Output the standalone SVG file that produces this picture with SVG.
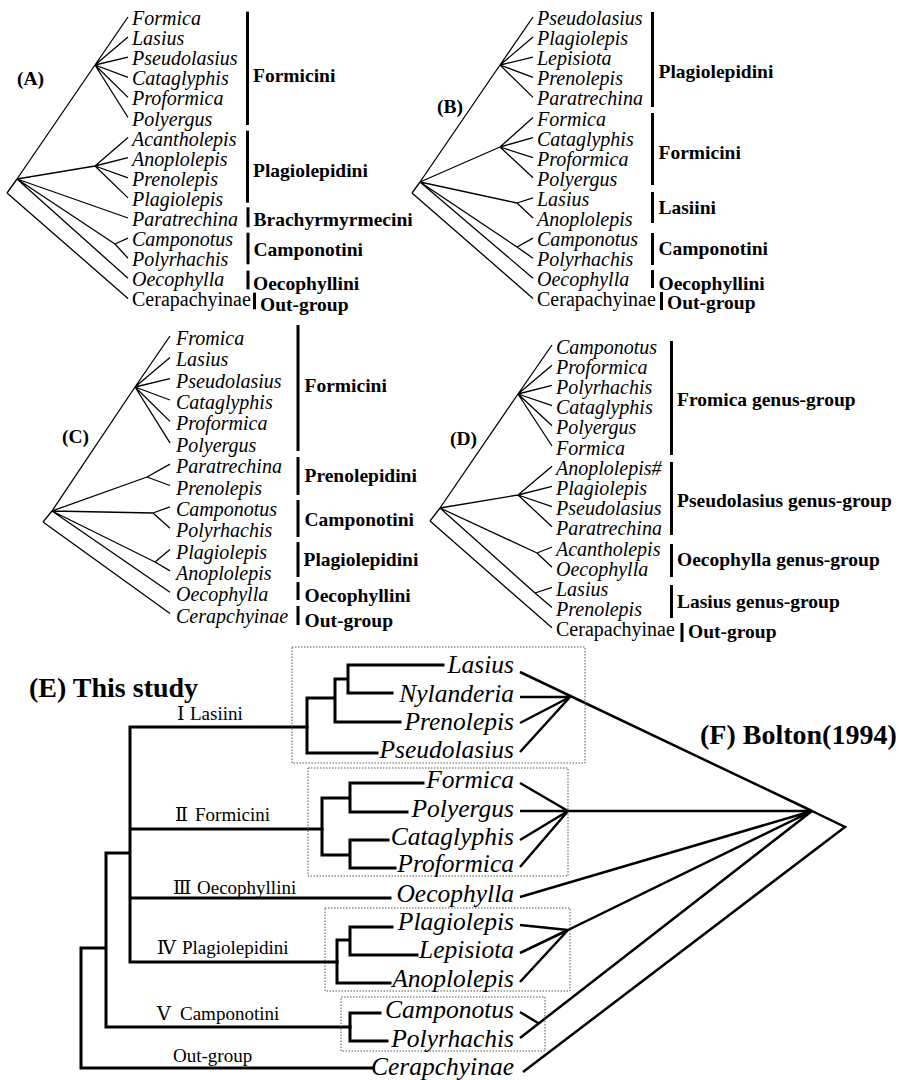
<svg xmlns="http://www.w3.org/2000/svg" width="899" height="1080" viewBox="0 0 899 1080">
<style>
text{font-family:"Liberation Serif","Times New Roman",serif;fill:#000}
.t{font-style:italic;font-size:20px}
.r{font-size:20px}
.b{font-weight:bold;font-size:19.5px}
.e{font-style:italic;font-size:25.5px;text-anchor:end}
.lab{font-size:19px}
.num{font-family:"Liberation Serif","DejaVu Serif",serif}
.title{font-weight:bold;font-size:28px}
.ln{stroke:#000;stroke-width:1.3;fill:none}
.th{stroke:#000;stroke-width:3;fill:none;stroke-linecap:square}
.f{stroke:#000;stroke-width:2.5;fill:none}
.box{fill:none;stroke:#555;stroke-width:1;stroke-dasharray:1.5 1.5}
.bar{fill:#000}
</style>
<rect width="899" height="1080" fill="#fff"/>

<!-- Panel titles -->
<g id="titles">
<text class="b" x="17" y="85">(A)</text>
<text class="b" x="437" y="113">(B)</text>
<text class="b" x="62" y="443">(C)</text>
<text class="b" x="450" y="445">(D)</text>
<text class="title" x="29" y="697">(E) This study</text>
<text class="title" x="700" y="744">(F) Bolton(1994)</text>
</g>

<!-- Connectors -->
<g id="connectors">
<path class="ln" d="M7,193L17,179M7,193L128,298.4M17,179L95,65M95,65L128,17M95,65L128,37.1M95,65L128,57.2M95,65L128,77.3M95,65L128,97.4M95,65L128,117.5M17,179L95,166M95,166L128,137.6M95,166L128,157.7M95,166L128,177.8M95,166L128,197.9M17,179L128,218M17,179L115,244M115,244L128,238.1M115,244L128,258.2M17,179L128,278.3"/>
<path class="ln" d="M412,193L420,182M412,193L533,298.4M420,182L500,65M500,65L533,17M500,65L533,37.1M500,65L533,57.2M500,65L533,77.3M500,65L533,97.4M420,182L500,147M500,147L533,117.5M500,147L533,137.6M500,147L533,157.7M500,147L533,177.8M420,182L517,203M517,203L533,197.9M517,203L533,218M420,182L517,247M517,247L533,238.1M517,247L533,258.2M420,182L533,278.3"/>
<path class="ln" d="M43,522L52,511M43,522L170,613.5M52,511L135,387M135,387L170,336M135,387L170,357.4M135,387L170,378.7M135,387L170,400M135,387L170,421.4M135,387L170,442.8M52,511L147,477M147,477L170,464.1M147,477L170,485.5M52,511L153,513M153,513L170,506.8M153,513L170,528.2M52,511L155,562M155,562L170,549.5M155,562L170,570.9M52,511L170,592.2"/>
<path class="ln" d="M430,521L440,508M430,521L552,627.8M440,508L518,394M518,394L552,345M518,394L552,365.2M518,394L552,385.4M518,394L552,405.6M518,394L552,425.8M518,394L552,446M440,508L518,495M518,495L552,466.2M518,495L552,486.4M518,495L552,506.6M518,495L552,526.8M440,508L537,553M537,553L552,547M537,553L552,567.2M440,508L535,593M535,593L552,587.4M535,593L552,607.6"/>
<!-- E tree -->
<path class="th" d="M130,727V962M130,727H307M130,829H322M130,898H390M130,962H337M106,853V1027M106,853H130M106,1027H350M81,948V1068M81,948H106M81,1068H372"/>
<path class="th" d="M307,698V753M307,698H335M307,753H377M335,679V722M335,679H348M335,722H400M348,665V693M348,665H443M348,693H392"/>
<path class="th" d="M322,798V855M322,798H350M322,855H350M350,783V812M350,783H423M350,812H407M350,840V868M350,840H388M350,868H395"/>
<path class="th" d="M337,940V983M337,940H350M337,983H390M350,927V955M350,927H392M350,955H417"/>
<path class="th" d="M350,1013V1041M350,1013H380M350,1041H387"/>
<!-- F (Bolton) -->
<path class="f" d="M520,672L812,811M520,697L570,697M520,723L570,697M520,752L570,697M520,783L568,811M520,811L812,811M520,840L568,811M520,867L568,811M520,897L812,811M520,925L568,930M520,953L568,930M520,982L568,930M568,930L812,811M520,1012L538,1023M520,1038L812,811M523,1072L845,827L812,811"/>
</g>

<!-- Dotted clade boxes -->
<g id="boxes">
<rect class="box" x="292" y="647" width="293" height="116"/>
<rect class="box" x="308" y="768" width="260" height="108"/>
<rect class="box" x="325" y="908" width="245" height="83"/>
<rect class="box" x="341" y="997" width="204" height="54"/>
</g>

<!-- Bracket bars -->
<g id="bars">
<rect class="bar" x="246" y="11.7" width="3" height="113.3"/>
<rect class="bar" x="246" y="130.7" width="3" height="72"/>
<rect class="bar" x="246.5" y="207.3" width="3" height="20"/>
<rect class="bar" x="246.5" y="232.7" width="3" height="31.6"/>
<rect class="bar" x="246.5" y="270.7" width="3" height="18.6"/>
<rect class="bar" x="253" y="292.7" width="3" height="16.6"/>
<rect class="bar" x="651" y="12" width="3" height="95"/>
<rect class="bar" x="651" y="113" width="3" height="72"/>
<rect class="bar" x="651" y="192" width="3" height="31"/>
<rect class="bar" x="651" y="233" width="3" height="32"/>
<rect class="bar" x="651" y="270" width="3" height="18"/>
<rect class="bar" x="660" y="292" width="3" height="18"/>
<rect class="bar" x="296.5" y="325" width="3" height="126"/>
<rect class="bar" x="296.5" y="457" width="3" height="38"/>
<rect class="bar" x="296.5" y="500" width="3" height="37"/>
<rect class="bar" x="296.5" y="542" width="3" height="35"/>
<rect class="bar" x="296.5" y="582" width="3" height="18"/>
<rect class="bar" x="296.5" y="606" width="3" height="19"/>
<rect class="bar" x="670" y="341" width="3" height="114"/>
<rect class="bar" x="670" y="462" width="3" height="73"/>
<rect class="bar" x="670" y="544" width="3" height="33"/>
<rect class="bar" x="670" y="585" width="3" height="33"/>
<rect class="bar" x="680.5" y="623" width="3" height="19"/>
</g>

<!-- Panel A taxa -->
<g id="A-Formica"><text class="t" x="132" y="25">Formica</text></g>
<g id="A-Lasius"><text class="t" x="132" y="45.1">Lasius</text></g>
<g id="A-Pseudolasius"><text class="t" x="132" y="65.2">Pseudolasius</text></g>
<g id="A-Cataglyphis"><text class="t" x="132" y="85.3">Cataglyphis</text></g>
<g id="A-Proformica"><text class="t" x="132" y="105.4">Proformica</text></g>
<g id="A-Polyergus"><text class="t" x="132" y="125.5">Polyergus</text></g>
<g id="A-Acantholepis"><text class="t" x="132" y="145.6">Acantholepis</text></g>
<g id="A-Anoplolepis"><text class="t" x="132" y="165.7">Anoplolepis</text></g>
<g id="A-Prenolepis"><text class="t" x="132" y="185.8">Prenolepis</text></g>
<g id="A-Plagiolepis"><text class="t" x="132" y="205.9">Plagiolepis</text></g>
<g id="A-Paratrechina"><text class="t" x="132" y="226">Paratrechina</text></g>
<g id="A-Camponotus"><text class="t" x="132" y="246.1">Camponotus</text></g>
<g id="A-Polyrhachis"><text class="t" x="132" y="266.2">Polyrhachis</text></g>
<g id="A-Oecophylla"><text class="t" x="132" y="286.3">Oecophylla</text></g>
<g id="A-Cerapachyinae"><text class="r" x="132" y="306.4">Cerapachyinae</text></g>
<g id="A-groups">
<text class="b" x="253" y="82">Formicini</text>
<text class="b" x="253" y="177">Plagiolepidini</text>
<text class="b" x="253.5" y="226">Brachyrmyrmecini</text>
<text class="b" x="253.5" y="256">Camponotini</text>
<text class="b" x="253" y="290">Oecophyllini</text>
<text class="b" x="260" y="311">Out-group</text>
</g>

<!-- Panel B taxa -->
<g id="B-Pseudolasius"><text class="t" x="537" y="25">Pseudolasius</text></g>
<g id="B-Plagiolepis"><text class="t" x="537" y="45.1">Plagiolepis</text></g>
<g id="B-Lepisiota"><text class="t" x="537" y="65.2">Lepisiota</text></g>
<g id="B-Prenolepis"><text class="t" x="537" y="85.3">Prenolepis</text></g>
<g id="B-Paratrechina"><text class="t" x="537" y="105.4">Paratrechina</text></g>
<g id="B-Formica"><text class="t" x="537" y="125.5">Formica</text></g>
<g id="B-Cataglyphis"><text class="t" x="537" y="145.6">Cataglyphis</text></g>
<g id="B-Proformica"><text class="t" x="537" y="165.7">Proformica</text></g>
<g id="B-Polyergus"><text class="t" x="537" y="185.8">Polyergus</text></g>
<g id="B-Lasius"><text class="t" x="537" y="205.9">Lasius</text></g>
<g id="B-Anoplolepis"><text class="t" x="537" y="226">Anoplolepis</text></g>
<g id="B-Camponotus"><text class="t" x="537" y="246.1">Camponotus</text></g>
<g id="B-Polyrhachis"><text class="t" x="537" y="266.2">Polyrhachis</text></g>
<g id="B-Oecophylla"><text class="t" x="537" y="286.3">Oecophylla</text></g>
<g id="B-Cerapachyinae"><text class="r" x="537" y="306.4">Cerapachyinae</text></g>
<g id="B-groups">
<text class="b" x="658.5" y="78">Plagiolepidini</text>
<text class="b" x="658.5" y="159">Formicini</text>
<text class="b" x="658.5" y="214">Lasiini</text>
<text class="b" x="658.5" y="255">Camponotini</text>
<text class="b" x="658.5" y="290">Oecophyllini</text>
<text class="b" x="667" y="309">Out-group</text>
</g>

<!-- Panel C taxa -->
<g id="C-Fromica"><text class="t" x="176" y="345">Fromica</text></g>
<g id="C-Lasius"><text class="t" x="176" y="366.4">Lasius</text></g>
<g id="C-Pseudolasius"><text class="t" x="176" y="387.7">Pseudolasius</text></g>
<g id="C-Cataglyphis"><text class="t" x="176" y="409.1">Cataglyphis</text></g>
<g id="C-Proformica"><text class="t" x="176" y="430.4">Proformica</text></g>
<g id="C-Polyergus"><text class="t" x="176" y="451.8">Polyergus</text></g>
<g id="C-Paratrechina"><text class="t" x="176" y="473.1">Paratrechina</text></g>
<g id="C-Prenolepis"><text class="t" x="176" y="494.5">Prenolepis</text></g>
<g id="C-Camponotus"><text class="t" x="176" y="515.8">Camponotus</text></g>
<g id="C-Polyrhachis"><text class="t" x="176" y="537.2">Polyrhachis</text></g>
<g id="C-Plagiolepis"><text class="t" x="176" y="558.5">Plagiolepis</text></g>
<g id="C-Anoplolepis"><text class="t" x="176" y="579.9">Anoplolepis</text></g>
<g id="C-Oecophylla"><text class="t" x="176" y="601.2">Oecophylla</text></g>
<g id="C-Cerapchyinae"><text class="t" x="176" y="622.6">Cerapchyinae</text></g>
<g id="C-groups">
<text class="b" x="304.5" y="391.7">Formicini</text>
<text class="b" x="304.5" y="481.7">Prenolepidini</text>
<text class="b" x="304.5" y="526">Camponotini</text>
<text class="b" x="303.5" y="566">Plagiolepidini</text>
<text class="b" x="304.5" y="601.7">Oecophyllini</text>
<text class="b" x="304.5" y="626.7">Out-group</text>
</g>

<!-- Panel D taxa -->
<g id="D-Camponotus"><text class="t" x="556" y="353.5">Camponotus</text></g>
<g id="D-Proformica"><text class="t" x="556" y="373.7">Proformica</text></g>
<g id="D-Polyrhachis"><text class="t" x="556" y="393.9">Polyrhachis</text></g>
<g id="D-Cataglyphis"><text class="t" x="556" y="414.1">Cataglyphis</text></g>
<g id="D-Polyergus"><text class="t" x="556" y="434.3">Polyergus</text></g>
<g id="D-Formica"><text class="t" x="556" y="454.5">Formica</text></g>
<g id="D-Anoplolepis"><text class="t" x="556" y="474.7">Anoplolepis#</text></g>
<g id="D-Plagiolepis"><text class="t" x="556" y="494.9">Plagiolepis</text></g>
<g id="D-Pseudolasius"><text class="t" x="556" y="515.1">Pseudolasius</text></g>
<g id="D-Paratrechina"><text class="t" x="556" y="535.3">Paratrechina</text></g>
<g id="D-Acantholepis"><text class="t" x="556" y="555.5">Acantholepis</text></g>
<g id="D-Oecophylla"><text class="t" x="556" y="575.7">Oecophylla</text></g>
<g id="D-Lasius"><text class="t" x="556" y="595.9">Lasius</text></g>
<g id="D-Prenolepis"><text class="t" x="556" y="616.1">Prenolepis</text></g>
<g id="D-Cerapachyinae"><text class="r" x="556" y="636.3">Cerapachyinae</text></g>
<g id="D-groups">
<text class="b" x="677" y="406">Fromica genus-group</text>
<text class="b" x="677" y="506.7">Pseudolasius genus-group</text>
<text class="b" x="677" y="566">Oecophylla genus-group</text>
<text class="b" x="677" y="608">Lasius genus-group</text>
<text class="b" x="688" y="638">Out-group</text>
</g>

<!-- Panel E clade labels -->
<g id="E-labels">
<text class="lab" x="177" y="720"><tspan class="num">Ⅰ</tspan> <tspan x="190">Lasiini</tspan></text>
<text class="lab" x="175" y="821"><tspan class="num">Ⅱ</tspan> <tspan x="195">Formicini</tspan></text>
<text class="lab" x="173" y="894"><tspan class="num">Ⅲ</tspan> <tspan x="197">Oecophyllini</tspan></text>
<text class="lab" x="157" y="954"><tspan class="num">Ⅳ</tspan> <tspan x="182">Plagiolepidini</tspan></text>
<text class="lab" x="157" y="1020"><tspan class="num">Ⅴ</tspan> <tspan x="180">Camponotini</tspan></text>
<text class="lab" x="173" y="1062">Out-group</text>
</g>

<!-- Panel E taxa -->
<g id="E-Lasius"><text class="e" x="514" y="673">Lasius</text></g>
<g id="E-Nylanderia"><text class="e" x="514" y="701.7">Nylanderia</text></g>
<g id="E-Prenolepis"><text class="e" x="514" y="730">Prenolepis</text></g>
<g id="E-Pseudolasius"><text class="e" x="514" y="758">Pseudolasius</text></g>
<g id="E-Formica"><text class="e" x="514" y="788">Formica</text></g>
<g id="E-Polyergus"><text class="e" x="514" y="817">Polyergus</text></g>
<g id="E-Cataglyphis"><text class="e" x="514" y="845">Cataglyphis</text></g>
<g id="E-Proformica"><text class="e" x="514" y="872">Proformica</text></g>
<g id="E-Oecophylla"><text class="e" x="514" y="901.7">Oecophylla</text></g>
<g id="E-Plagiolepis"><text class="e" x="514" y="930">Plagiolepis</text></g>
<g id="E-Lepisiota"><text class="e" x="514" y="958">Lepisiota</text></g>
<g id="E-Anoplolepis"><text class="e" x="514" y="986.7">Anoplolepis</text></g>
<g id="E-Camponotus"><text class="e" x="514" y="1018">Camponotus</text></g>
<g id="E-Polyrhachis"><text class="e" x="514" y="1046.7">Polyrhachis</text></g>
<g id="E-Cerapchyinae"><text class="e" x="514" y="1075">Cerapchyinae</text></g>
</svg>
